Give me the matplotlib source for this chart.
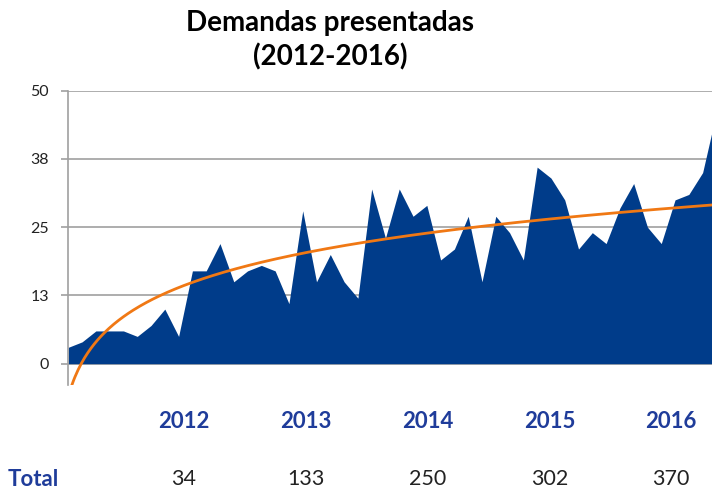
import numpy as np
import matplotlib
matplotlib.use("Agg")
import matplotlib.pyplot as plt

plt.rcParams['font.family'] = ['Lato', 'DejaVu Sans']

# monthly filings (last point is cut by the picture edge)
demandas = [3, 4, 6, 6, 6, 5, 7, 10, 5, 17, 17, 22,
            15, 17, 18, 17, 11, 28, 15, 20, 15, 12, 32, 23,
            32, 27, 29, 19, 21, 27, 15, 27, 24, 19, 36, 34,
            30, 21, 24, 22, 28.5, 33, 25, 22, 30, 31, 35, 46]
y_ticks = [0, 12.5, 25, 37.5, 50]
y_labels = ['0', '13', '25', '38', '50']
years = ['2012', '2013', '2014', '2015', '2016']
totals = [34, 133, 250, 302, 370]

blue = '#003C8A'
orange = '#F07814'
label_blue = '#1F3C9A'

fig = plt.figure(figsize=(7.12, 4.91), dpi=100)
ax = fig.add_axes([68.3 / 712, 0.2159, 1 - 68.3 / 712, 0.5994])

x = np.arange(len(demandas))
ax.fill_between(x, 0, demandas, color=blue, lw=0, zorder=2)

# logarithmic trend line (like Excel's)
a, b = np.polyfit(np.log(x + 1), demandas, 1)
xt = np.linspace(0, len(demandas) - 1, 400)
ax.plot(xt, a * np.log(xt + 1) + b, color=orange, lw=2, zorder=3)

ax.set_xlim(0, 46.68)
ax.set_ylim(-3.9, 50)
ax.set_yticks(y_ticks)
ax.set_yticklabels(y_labels, fontsize=11.5, color='#222222')
ax.set_xticks([])
ax.grid(axis='y', color='#A0A0A0', lw=1.2, zorder=1)
ax.tick_params(axis='y', length=5, width=1.2, color='#A0A0A0', pad=9)
for s in ['top', 'right', 'bottom']:
    ax.spines[s].set_visible(False)
ax.spines['left'].set_color('#A0A0A0')
ax.spines['left'].set_linewidth(1.2)

fig.text(330 / 712, 1 - 23 / 491, 'Demandas presentadas', ha='center', va='center',
         fontsize=20, fontweight='bold')
fig.text(330 / 712, 1 - 57 / 491, '(2012-2016)', ha='center', va='center',
         fontsize=20, fontweight='bold')

col_x = [184, 306, 428, 550, 671]
for cx, yr, tot in zip(col_x, years, totals):
    fig.text(cx / 712, 1 - 422 / 491, yr, ha='center', va='center',
             fontsize=16, fontweight='bold', color=label_blue)
    fig.text(cx / 712, 1 - 479 / 491, str(tot), ha='center', va='center',
             fontsize=15.5, color='#222222')
fig.text(8 / 712, 1 - 479 / 491, 'Total', ha='left', va='center',
         fontsize=16, fontweight='bold', color=label_blue)

fig.savefig('out.png', dpi=100)
